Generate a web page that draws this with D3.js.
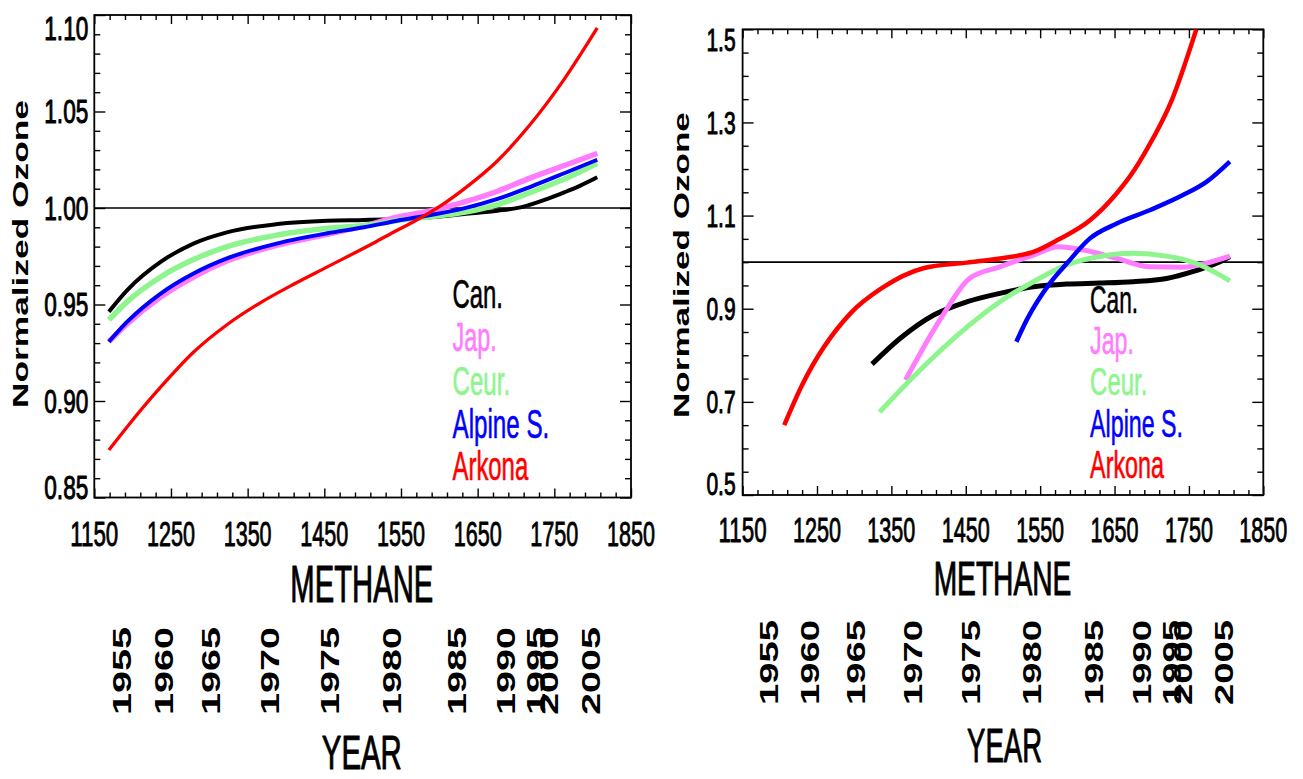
<!DOCTYPE html>
<html>
<head>
<meta charset="utf-8">
<script src="https://cdn.jsdelivr.net/npm/d3@7"></script>
<style>
  html, body { margin: 0; padding: 0; background: #fff; }
  svg { display: block; }
  text { font-family: "Liberation Sans", Arial, Helvetica, sans-serif; }
</style>
</head>
<body>
<svg id="chart" width="1303" height="779"></svg>
<script>
// ---------- data ----------
const seriesNames = ["Can.", "Jap.", "Ceur.", "Alpine S.", "Arkona"];

const methaneTicks = [1150, 1250, 1350, 1450, 1550, 1650, 1750, 1850];
const leftOzoneTicks = [0.85, 0.90, 0.95, 1.00, 1.05, 1.10];
const rightOzoneTicks = [0.5, 0.7, 0.9, 1.1, 1.3, 1.5];

// methane level reached in each labelled year
const yearLabels = ["1955", "1960", "1965", "1970", "1975", "1980", "1985", "1990", "1995", "2000", "2005"];
const yearMethane = [1185, 1240, 1302, 1378, 1457, 1538, 1622, 1686, 1726, 1742, 1797];

// left panel: fitted ozone vs methane, [methane, normalized ozone]
const leftCan = [[1169,0.9463],[1193,0.9575],[1237,0.9722],[1280,0.9817],[1323,0.9874],[1389,0.9917],[1454,0.9934],[1502,0.9938],[1545,0.9943],[1589,0.9952],[1632,0.9969],[1676,0.9986],[1706,1.0003],[1741,1.0047],[1763,1.0081],[1784,1.0116],[1806,1.0159]];
const leftJap = [[1169,0.9307],[1193,0.9400],[1237,0.9540],[1280,0.9644],[1323,0.9725],[1389,0.9808],[1454,0.9864],[1502,0.9908],[1545,0.9952],[1589,0.9986],[1632,1.0030],[1676,1.0087],[1719,1.0156],[1763,1.0220],[1806,1.0283]];
const leftCeur = [[1169,0.9420],[1193,0.9515],[1237,0.9644],[1280,0.9734],[1323,0.9800],[1389,0.9860],[1454,0.9895],[1515,0.9915],[1545,0.9935],[1589,0.9955],[1632,0.9978],[1676,1.0018],[1719,1.0081],[1763,1.0150],[1806,1.0232]];
const leftAlpine = [[1169,0.9307],[1193,0.9411],[1237,0.9558],[1280,0.9662],[1323,0.9739],[1389,0.9817],[1454,0.9869],[1502,0.9900],[1545,0.9934],[1589,0.9964],[1632,0.9998],[1676,1.0047],[1719,1.0110],[1763,1.0180],[1806,1.0250]];
const leftArkona = [[1169,0.8746],[1193,0.8867],[1237,0.9074],[1280,0.9255],[1323,0.9395],[1367,0.9510],[1410,0.9605],[1454,0.9695],[1515,0.9820],[1545,0.9885],[1567,0.9930],[1602,1.0012],[1632,1.0098],[1676,1.0245],[1719,1.0435],[1763,1.0668],[1806,1.0933]];

// right panel: observed ozone vs methane, [methane, normalized ozone]
const rightCan = [[1324,0.781],[1362,0.8365],[1407,0.8865],[1452,0.915],[1496,0.933],[1541,0.947],[1586,0.953],[1630,0.955],[1675,0.958],[1720,0.965],[1756,0.980],[1774,0.990],[1792,1.001],[1805,1.012]];
const rightJap = [[1369,0.747],[1418,0.883],[1455,0.965],[1496,0.990],[1541,1.015],[1574,1.033],[1608,1.026],[1653,1.008],[1698,0.990],[1742,0.989],[1774,0.998],[1805,1.013]];
const rightCeur = [[1334,0.678],[1384,0.761],[1452,0.861],[1496,0.915],[1541,0.958],[1586,0.994],[1630,1.012],[1675,1.019],[1720,1.013],[1765,0.994],[1805,0.960]];
const rightAlpine = [[1518,0.829],[1532,0.876],[1563,0.9545],[1586,0.9975],[1617,1.051],[1653,1.083],[1698,1.112],[1742,1.144],[1774,1.173],[1805,1.216]];
const rightArkona = [[1206,0.650],[1230,0.736],[1295,0.890],[1337,0.944],[1393,0.987],[1452,0.999],[1496,1.008],[1541,1.022],[1574,1.048],[1617,1.090],[1653,1.148],[1675,1.194],[1693,1.241],[1727,1.348],[1760,1.500]];

// ---------- styles ----------
const seriesColors = ["#000000", "#ff7cff", "#8ef58e", "#0000ff", "#ff0000"];

const svg = d3.select("#chart");

// Writes a text starting at (x, y) and scales it along its run to a set length.
function placeText(parent, o) {
  const fill = o.fill || "#000";
  const t = parent.append("text")
    .attr("font-size", o.font)
    .attr("font-weight", o.weight || "normal")
    .style("fill", fill)
    .style("stroke", o.stroke ? fill : "none")
    .style("stroke-width", o.stroke || 0)
    .style("stroke-linejoin", "round")
    .text(o.text);
  const natural = t.node().getComputedTextLength();
  const sx = o.len / natural;
  const rot = o.rotate ? ` rotate(${o.rotate})` : "";
  t.attr("transform", `translate(${o.x},${o.y})${rot} scale(${sx},1)`);
  return t;
}

const panels = [
  {
    id: "L",
    left: 94.3, right: 631, top: 15, bottom: 497.5,
    yDomain: [0.85, 1.10], yTicks: leftOzoneTicks, yMinorStep: 0.01, yFmt: d3.format(".2f"),
    series: [leftCan, leftJap, leftCeur, leftAlpine, leftArkona],
    widths: [4, 5.5, 5.5, 4, 3.3],
    ytickFont: 32.5, ytickLen: 44, ytickGap: 6, ytickTopPad: 1.7, ytickBotPad: 1,
    xtickFont: 35, xtickBase: 546, xtickLen: 48,
    methane: { cx: 361.8, base: 601.7, font: 51, len: 143 },
    year: { cx: 361.8, base: 768.5, font: 49, len: 80 },
    years: { start: 715, font: 26.5, len: 88 },
    yTitle: { base: 27.5, cy: 254, font: 22, len: 308 },
    legend: { x: 452.5, font: 40, bases: [308.3, 350.5, 395, 438.3, 480], lens: [50.5, 44.2, 57.6, 96.8, 75.7] }
  },
  {
    id: "R",
    left: 742.6, right: 1263.3, top: 29.3, bottom: 495,
    yDomain: [0.5, 1.5], yTicks: rightOzoneTicks, yMinorStep: 0.05, yFmt: d3.format(".1f"),
    series: [rightCan, rightJap, rightCeur, rightAlpine, rightArkona],
    widths: [5, 5, 5, 4.5, 4.5],
    ytickFont: 31, ytickLen: 29.2, ytickGap: 7, ytickTopPad: 0, ytickBotPad: 0,
    xtickFont: 35, xtickBase: 541.7, xtickLen: 48,
    methane: { cx: 1002.5, base: 595, font: 49, len: 137.7 },
    year: { cx: 1004.6, base: 761.7, font: 49, len: 75 },
    years: { start: 705, font: 26.5, len: 85 },
    yTitle: { base: 688.5, cy: 265, font: 22, len: 306 },
    legend: { x: 1090.1, font: 39, bases: [313, 353.5, 395, 436.7, 478.3], lens: [48, 43.8, 57.2, 93, 73.8] }
  }
];

panels.forEach(p => {
  const x = d3.scaleLinear().domain([1150, 1850]).range([p.left, p.right]);
  const y = d3.scaleLinear().domain(p.yDomain).range([p.bottom, p.top]);
  const g = svg.append("g");

  // clip region for the curves
  g.append("clipPath").attr("id", "clip" + p.id)
    .append("rect")
    .attr("x", p.left).attr("y", p.top)
    .attr("width", p.right - p.left).attr("height", p.bottom - p.top);

  // tick values: majors every 100 ppb, minors every 20 ppb
  const xAll = d3.range(0, 36).map(i => 1150 + i * 20);
  const xMajor = xAll.filter(v => (v - 1150) % 100 === 0);
  const xMinor = xAll.filter(v => (v - 1150) % 100 !== 0);
  const nY = Math.round((p.yDomain[1] - p.yDomain[0]) / p.yMinorStep);
  const yAll = d3.range(0, nY + 1).map(i => p.yDomain[0] + i * p.yMinorStep);
  const isMajor = v => p.yTicks.some(t => Math.abs(t - v) < 1e-6);
  const yMajor = yAll.filter(isMajor);
  const yMinor = yAll.filter(v => !isMajor(v));

  const tickStyle = sel => {
    sel.select(".domain").remove();
    sel.selectAll("text").remove();
    sel.selectAll("line").attr("stroke", "#000").attr("stroke-width", 1.4);
  };

  // inward ticks on all four sides
  const addAxis = (axisFn, scale, vals, len, tx, ty) => {
    g.append("g").attr("transform", `translate(${tx},${ty})`)
      .call(axisFn(scale).tickValues(vals).tickSizeInner(-len).tickSizeOuter(0).tickFormat(""))
      .call(tickStyle);
  };
  addAxis(d3.axisBottom, x, xMajor, 9, 0, p.bottom);
  addAxis(d3.axisBottom, x, xMinor, 5, 0, p.bottom);
  addAxis(d3.axisTop, x, xMajor, 9, 0, p.top);
  addAxis(d3.axisTop, x, xMinor, 5, 0, p.top);
  addAxis(d3.axisLeft, y, yMajor, 11, p.left, 0);
  addAxis(d3.axisLeft, y, yMinor, 6, p.left, 0);
  addAxis(d3.axisRight, y, yMajor, 11, p.right, 0);
  addAxis(d3.axisRight, y, yMinor, 6, p.right, 0);

  // frame
  g.append("rect")
    .attr("x", p.left).attr("y", p.top)
    .attr("width", p.right - p.left).attr("height", p.bottom - p.top)
    .attr("fill", "none").attr("stroke", "#000").attr("stroke-width", 1.8);

  // reference line at 1.00
  g.append("line")
    .attr("x1", p.left).attr("x2", p.right)
    .attr("y1", y(1)).attr("y2", y(1))
    .attr("stroke", "#000").attr("stroke-width", 1.6);

  // curves
  const line = d3.line().x(d => x(d[0])).y(d => y(d[1])).curve(d3.curveMonotoneX);
  const curves = g.append("g").attr("clip-path", `url(#clip${p.id})`);
  p.series.forEach((s, i) => {
    curves.append("path")
      .attr("d", line(s))
      .attr("fill", "none")
      .attr("stroke", seriesColors[i])
      .attr("stroke-width", p.widths[i])
      .attr("stroke-linejoin", "round");
  });

  // y tick labels (end labels kept inside the frame)
  const capY = p.ytickFont * 0.716;
  p.yTicks.forEach(v => {
    let base = y(v) + capY / 2;
    base = Math.max(base, p.top + p.ytickTopPad + capY);
    base = Math.min(base, p.bottom + p.ytickBotPad);
    placeText(g, { x: p.left - p.ytickGap - p.ytickLen, y: base, font: p.ytickFont, len: p.ytickLen, text: p.yFmt(v), stroke: 1 });
  });

  // x tick labels
  methaneTicks.forEach(v => {
    placeText(g, { x: x(v) - p.xtickLen / 2, y: p.xtickBase, font: p.xtickFont, len: p.xtickLen, text: String(v), stroke: 0.9 });
  });

  // axis titles
  placeText(g, { x: p.methane.cx - p.methane.len / 2, y: p.methane.base, font: p.methane.font, len: p.methane.len, text: "METHANE", stroke: 1 });
  placeText(g, { x: p.year.cx - p.year.len / 2, y: p.year.base, font: p.year.font, len: p.year.len, text: "YEAR", stroke: 1 });

  // year labels placed at their methane level
  const capYr = p.years.font * 0.716;
  yearLabels.forEach((lab, i) => {
    placeText(g, { x: x(yearMethane[i]) + capYr / 2, y: p.years.start, rotate: -90, font: p.years.font, len: p.years.len, text: lab, weight: "bold" });
  });

  // vertical axis title
  placeText(g, { x: p.yTitle.base, y: p.yTitle.cy + p.yTitle.len / 2, rotate: -90, font: p.yTitle.font, len: p.yTitle.len, text: "Normalized Ozone", weight: "bold" });

  // legend
  seriesNames.forEach((name, i) => {
    placeText(g, { x: p.legend.x, y: p.legend.bases[i], font: p.legend.font, len: p.legend.lens[i], text: name, fill: seriesColors[i], stroke: 0.6 });
  });
});
</script>
</body>
</html>
